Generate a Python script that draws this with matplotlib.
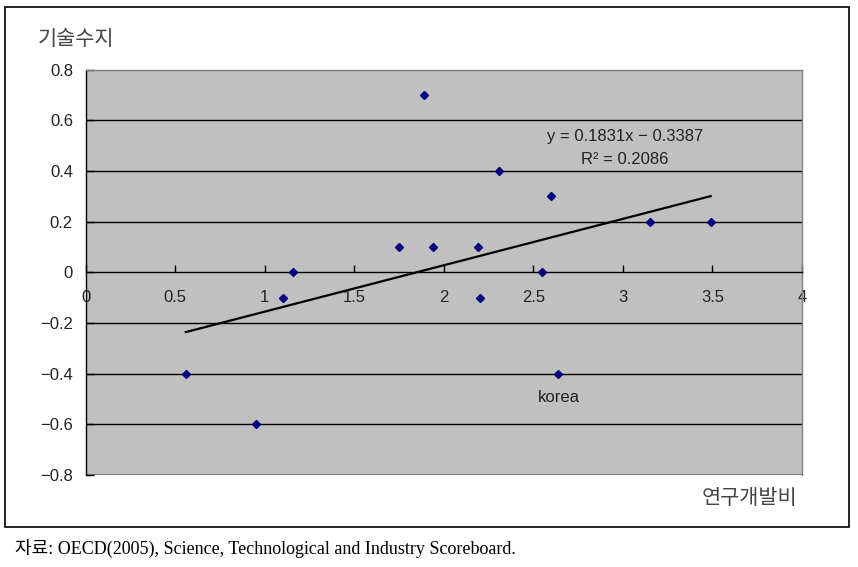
import matplotlib.pyplot as plt
from matplotlib.patches import Rectangle

# R&D expenditure (x) vs technology balance (y)
rnd = [0.56, 0.95, 1.10, 1.16, 1.75, 1.89, 1.94, 2.19, 2.20, 2.31, 2.55, 2.60, 2.64, 3.15, 3.49]
balance = [-0.4, -0.6, -0.1, 0.0, 0.1, 0.7, 0.1, 0.1, -0.1, 0.4, 0.0, 0.3, -0.4, 0.2, 0.2]
korea = (2.64, -0.4)

slope = 0.1831
intercept = -0.3387
r2 = 0.2086

x_ticks = [0, 0.5, 1, 1.5, 2, 2.5, 3, 3.5, 4]
y_ticks = [-0.8, -0.6, -0.4, -0.2, 0, 0.2, 0.4, 0.6, 0.8]

SANS = ["Liberation Sans", "Noto Sans CJK KR"]
KR = ["Noto Sans CJK KR", "DejaVu Sans"]
SERIF = ["Liberation Serif", "Noto Sans CJK KR"]


def fmt(v):
    s = f"{v:g}"
    return s.replace("-", "\u2212")


def main():
    fig = plt.figure(figsize=(8.58, 5.67), dpi=100)
    fig.patch.set_facecolor("white")

    # outer box around the chart
    fig.patches.append(Rectangle((5 / 858, 40 / 567), 844 / 858, 520 / 567,
                                 transform=fig.transFigure, fill=False,
                                 edgecolor="black", linewidth=1.2))

    ax = fig.add_axes([85.5 / 858, 92 / 567, 716.5 / 858, 405.5 / 567])
    ax.set_facecolor("#c0c0c0")
    ax.set_xlim(0, 4)
    ax.set_ylim(-0.8, 0.8)

    # horizontal gridlines
    for v in y_ticks[1:-1]:
        if v != 0:
            ax.axhline(v, color="black", linewidth=1.0, zorder=1)

    for side in ["top", "right"]:
        ax.spines[side].set_color("#808080")
        ax.spines[side].set_linewidth(1.0)
    ax.spines["left"].set_color("black")
    ax.spines["left"].set_linewidth(1.0)
    ax.spines["bottom"].set_position(("data", 0))
    ax.spines["bottom"].set_color("black")
    ax.spines["bottom"].set_linewidth(1.0)
    # gray border along the bottom edge
    ax.axhline(-0.8, color="#808080", linewidth=1.5, zorder=1)

    ax.set_xticks(x_ticks)
    ax.set_xticklabels([fmt(v) for v in x_ticks])
    ax.set_yticks(y_ticks)
    ax.set_yticklabels([fmt(v) for v in y_ticks])
    ax.tick_params(axis="x", direction="in", length=5, width=1, pad=12.5,
                   labelsize=12, colors="black")
    ax.tick_params(axis="y", direction="in", length=6, width=1, pad=9,
                   labelsize=12, colors="black")
    for lab in ax.get_xticklabels() + ax.get_yticklabels():
        lab.set_family(SANS)
        lab.set_color("#222222")

    # trend line between the smallest and largest x
    x0, x1 = min(rnd), max(rnd)
    ax.plot([x0, x1], [slope * x0 + intercept, slope * x1 + intercept],
            color="black", linewidth=1.6, zorder=3)

    ax.plot(rnd, balance, linestyle="none", marker="D", markersize=4,
            color="#000080", zorder=4, clip_on=False)

    ax.text(3.01, 0.535, f"y = {slope:.4f}x \u2212 {abs(intercept):.4f}",
            ha="center", va="center", fontsize=12, family=SANS, color="#222222")
    ax.text(3.01, 0.443, f"R\u00b2 = {r2:.4f}", ha="center", va="center",
            fontsize=12, family=SANS, color="#222222")
    ax.text(korea[0], korea[1] - 0.096, "korea", ha="center", va="center",
            fontsize=12, family=SANS, color="#222222")

    fig.text(38 / 858, 1 - 39 / 567, "기술수지", ha="left", va="center",
             fontsize=15, family=KR, fontweight="light", color="#444444")
    fig.text(797 / 858, 1 - 498 / 567, "연구개발비", ha="right", va="center",
             fontsize=15, family=KR, fontweight="light", color="#444444")

    fig.text(15 / 858, 1 - 548 / 567,
             "자료: OECD(2005), Science, Technological and Industry Scoreboard.",
             ha="left", va="center", fontsize=13, family=SERIF)

    fig.savefig("out.png", dpi=100)
    plt.close(fig)


if __name__ == "__main__":
    main()
